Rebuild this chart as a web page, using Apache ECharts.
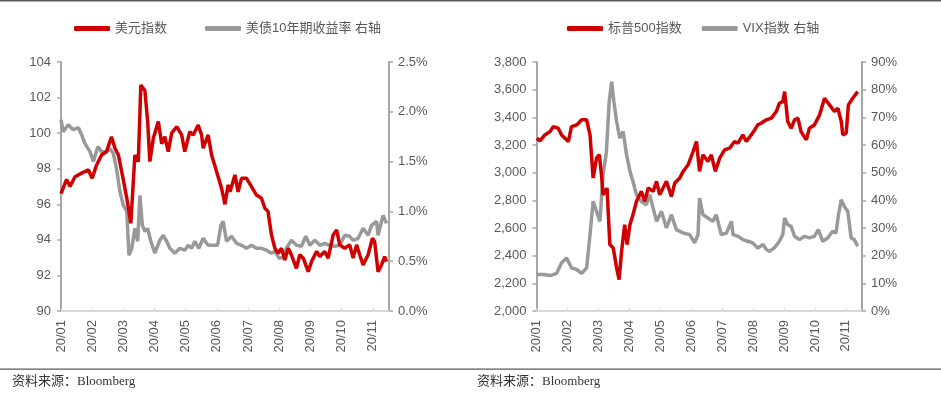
<!DOCTYPE html>
<html>
<head>
<meta charset="utf-8">
<script src="https://cdn.jsdelivr.net/npm/echarts@6/dist/echarts.min.js"></script>
<style>
html,body{margin:0;padding:0;background:#fff;}
#c{width:941px;height:395px;}
</style>
</head>
<body>
<div id="c"></div>
<script>
// x positions are in months since 2020-01-01 (0 = 20/01, 1 = 20/02, ...)
var monthLabels = ['20/01','20/02','20/03','20/04','20/05','20/06','20/07','20/08','20/09','20/10','20/11'];

// US Dollar Index
var dxyT = [0.00,0.18,0.29,0.45,0.66,0.88,1.00,1.14,1.30,1.46,1.62,1.73,1.84,2.00,2.11,2.24,2.37,2.48,2.56,2.69,2.78,2.85,2.96,3.12,3.23,3.33,3.44,3.55,3.71,3.87,3.97,4.13,4.24,4.40,4.51,4.56,4.72,4.83,4.99,5.15,5.26,5.36,5.42,5.58,5.68,5.79,5.95,6.11,6.27,6.43,6.54,6.64,6.75,6.86,6.96,7.07,7.18,7.29,7.39,7.55,7.66,7.77,7.93,8.04,8.20,8.30,8.46,8.57,8.73,8.84,8.94,9.10,9.26,9.37,9.48,9.58,9.69,9.85,9.99,10.06,10.17,10.28,10.38,10.44];
var dxyV = [96.6,97.4,97.0,97.55,97.75,97.93,97.46,98.2,98.77,98.96,99.8,99.15,98.77,97.37,96.34,94.93,98.77,98.4,102.7,102.4,100.65,98.4,99.7,100.65,99.4,99.8,98.96,100.0,100.36,99.9,98.96,100.08,99.9,100.46,99.9,99.15,99.9,98.77,97.84,96.9,96.0,97.09,96.7,97.65,96.7,97.46,97.46,96.99,96.52,96.34,95.78,95.6,94.28,93.53,93.25,93.53,92.87,93.53,93.16,92.4,93.16,92.97,92.21,92.8,93.35,93.06,93.35,92.97,94.28,94.56,93.72,93.53,93.72,92.97,93.72,93.16,92.59,93.16,94.09,93.9,92.21,92.59,93.06,92.78];

// US 10Y Treasury yield (%)
var ust10T = [0.00,0.07,0.23,0.39,0.56,0.66,0.77,0.93,1.04,1.18,1.30,1.46,1.57,1.68,1.78,1.89,2.00,2.11,2.18,2.27,2.37,2.46,2.53,2.61,2.69,2.78,2.88,3.01,3.17,3.28,3.39,3.49,3.65,3.81,3.97,4.08,4.19,4.29,4.42,4.56,4.72,4.88,5.02,5.13,5.20,5.31,5.47,5.63,5.79,5.95,6.11,6.27,6.43,6.59,6.75,6.86,7.00,7.13,7.23,7.39,7.55,7.71,7.85,7.98,8.14,8.30,8.46,8.62,8.78,8.94,9.10,9.26,9.37,9.53,9.69,9.85,9.96,10.12,10.17,10.28,10.33,10.44];
var ust10V = [1.92,1.80,1.87,1.82,1.84,1.77,1.68,1.60,1.50,1.65,1.60,1.60,1.63,1.58,1.43,1.20,1.06,1.00,0.56,0.63,0.83,0.70,1.16,0.86,0.80,0.83,0.70,0.58,0.71,0.76,0.70,0.63,0.58,0.63,0.61,0.66,0.63,0.70,0.63,0.73,0.66,0.66,0.66,0.86,0.90,0.70,0.75,0.68,0.66,0.63,0.66,0.63,0.63,0.61,0.58,0.60,0.53,0.54,0.63,0.71,0.66,0.65,0.75,0.66,0.71,0.66,0.68,0.66,0.65,0.66,0.76,0.75,0.71,0.73,0.83,0.76,0.86,0.90,0.76,0.90,0.96,0.88];

// S&P 500 index
var spxT = [0.01,0.11,0.27,0.44,0.54,0.70,0.81,0.92,1.03,1.13,1.30,1.46,1.62,1.73,1.83,1.94,2.03,2.10,2.15,2.28,2.37,2.48,2.59,2.67,2.75,2.85,2.93,3.02,3.12,3.23,3.39,3.50,3.61,3.77,3.88,3.98,4.09,4.20,4.36,4.47,4.63,4.74,4.90,5.06,5.17,5.22,5.27,5.38,5.54,5.65,5.78,5.92,6.08,6.24,6.40,6.51,6.67,6.78,6.94,7.05,7.15,7.26,7.43,7.59,7.75,7.85,7.96,8.02,8.12,8.23,8.34,8.45,8.55,8.72,8.82,8.98,9.15,9.31,9.47,9.63,9.74,9.85,9.90,10.01,10.08,10.22,10.38];
var spxV = [3250,3230,3273,3297,3333,3321,3273,3249,3225,3333,3345,3382,3382,3273,2961,3105,3130,2985,2840,2889,2480,2456,2312,2227,2432,2624,2480,2624,2697,2792,2865,2792,2889,2865,2937,2840,2889,2937,2828,2925,2961,3009,3057,3153,3225,3213,3009,3129,3081,3129,3009,3105,3165,3177,3225,3213,3273,3225,3273,3309,3345,3357,3382,3394,3442,3502,3514,3586,3370,3321,3382,3394,3297,3237,3321,3345,3418,3538,3490,3442,3466,3370,3273,3285,3490,3538,3586];

// VIX index (right axis)
var vixT = [0.01,0.22,0.44,0.65,0.81,0.97,1.13,1.30,1.46,1.62,1.73,1.83,1.94,2.05,2.15,2.26,2.35,2.43,2.50,2.59,2.69,2.80,2.91,3.02,3.12,3.23,3.39,3.55,3.66,3.77,3.88,4.04,4.20,4.36,4.52,4.74,4.95,5.11,5.22,5.27,5.38,5.54,5.70,5.81,5.97,6.14,6.30,6.35,6.51,6.67,6.83,6.99,7.15,7.32,7.43,7.53,7.69,7.85,7.96,8.02,8.12,8.23,8.34,8.50,8.66,8.82,8.98,9.11,9.25,9.41,9.57,9.68,9.76,9.85,9.95,10.06,10.17,10.27,10.38];
var vixV = [13.2,13.2,12.8,13.6,17.4,19.2,15.6,15.0,13.6,15.6,27.6,39.6,36.0,32.4,49.2,57.6,75.7,82.9,75.7,68.5,62.5,64.9,56.5,50.5,46.8,42.0,39.6,38.4,42.0,37.2,32.4,36.0,30.0,34.8,29.4,28.2,27.6,24.6,27.6,40.8,34.8,33.6,32.4,34.8,27.6,28.2,32.4,27.6,27.0,25.8,25.2,24.6,22.8,24.0,22.2,21.6,22.8,25.2,27.6,33.6,31.2,30.6,27.0,25.8,27.0,26.4,27.0,29.4,25.2,26.4,28.8,28.2,34.8,40.2,37.8,36.0,26.4,25.8,23.4];

function zip(t, v){ return t.map(function(x,i){ return [x, v[i]]; }); }

var RED = '#D00000', GRAY = '#999999', TXT = '#595959';
var FONT = '"Liberation Sans", Arial, "Noto Sans CJK SC", sans-serif';

function xAxis(gi){
  return {
    type:'value', gridIndex:gi, min:0, max:10.52, interval:1,
    axisLine:{show:true, lineStyle:{color:'#d9d9d9', width:2}},
    axisTick:{show:true, inside:true, length:3, lineStyle:{color:'#d9d9d9'}},
    splitLine:{show:false},
    axisLabel:{rotate:90, margin:9, color:TXT, fontSize:13, fontFamily:FONT, showMaxLabel:false,
      formatter:function(v){ return Math.abs(v-Math.round(v))<1e-6 ? (monthLabels[Math.round(v)]||'') : ''; }}
  };
}
function yAxis(gi, pos, min, max, interval, fmt){
  return {
    type:'value', gridIndex:gi, position:pos, min:min, max:max, interval:interval,
    axisLine:{show:true, onZero:false, lineStyle:{color:'#a6a6a6', width:2}},
    axisTick:{show:true, length:4, lineStyle:{color:'#a6a6a6', width:1.5}},
    splitLine:{show:false},
    axisLabel:{color:TXT, fontSize:13, fontFamily:FONT, margin:pos==='left'?10:9, formatter:fmt}
  };
}

var chart = echarts.init(document.getElementById('c'));
chart.setOption({
  animation:false,
  backgroundColor:'#fff',
  grid:[
    {left:61, right:552, top:62, bottom:84},
    {left:536.5, right:79, top:62, bottom:84}
  ],
  legend:[
    {left:69, top:17, itemWidth:36, itemHeight:5, itemGap:38, icon:'roundRect',
     textStyle:{color:TXT, fontSize:13, fontFamily:FONT},
     data:['美元指数','美债10年期收益率 右轴']},
    {left:562, top:17, itemWidth:36, itemHeight:5, itemGap:20, icon:'roundRect',
     textStyle:{color:TXT, fontSize:13, fontFamily:FONT},
     data:['标普500指数','VIX指数 右轴']}
  ],
  xAxis:[xAxis(0), xAxis(1)],
  yAxis:[
    yAxis(0,'left',90,104,2,function(v){return String(v);}),
    yAxis(0,'right',0,2.5,0.5,function(v){return v.toFixed(1)+'%';}),
    yAxis(1,'left',2000,3800,200,function(v){return v.toLocaleString('en-US');}),
    yAxis(1,'right',0,90,10,function(v){return v+'%';})
  ],
  series:[
    {name:'美债10年期收益率 右轴', type:'line', xAxisIndex:0, yAxisIndex:1, data:zip(ust10T,ust10V),
     showSymbol:false, symbol:'none', lineStyle:{color:GRAY, width:3.5}, itemStyle:{color:GRAY}, z:2},
    {name:'美元指数', type:'line', xAxisIndex:0, yAxisIndex:0, data:zip(dxyT,dxyV),
     showSymbol:false, symbol:'none', lineStyle:{color:RED, width:3.5}, itemStyle:{color:RED}, z:3},
    {name:'VIX指数 右轴', type:'line', xAxisIndex:1, yAxisIndex:3, data:zip(vixT,vixV),
     showSymbol:false, symbol:'none', lineStyle:{color:GRAY, width:3.5}, itemStyle:{color:GRAY}, z:2},
    {name:'标普500指数', type:'line', xAxisIndex:1, yAxisIndex:2, data:zip(spxT,spxV),
     showSymbol:false, symbol:'none', lineStyle:{color:RED, width:3.5}, itemStyle:{color:RED}, z:3}
  ],
  graphic:[
    {type:'rect', shape:{x:0,y:0,width:941,height:1.5}, style:{fill:'#595959'}, silent:true},
    {type:'rect', shape:{x:0,y:368.5,width:941,height:1.3}, style:{fill:'#595959'}, silent:true},
    {type:'text', left:12, top:375, style:{text:'资料来源：Bloomberg', fill:'#333', fontSize:13, fontFamily:'"Liberation Serif", "Noto Sans CJK SC", serif'}},
    {type:'text', left:477, top:375, style:{text:'资料来源：Bloomberg', fill:'#333', fontSize:13, fontFamily:'"Liberation Serif", "Noto Sans CJK SC", serif'}}
  ]
});
</script>
</body>
</html>
